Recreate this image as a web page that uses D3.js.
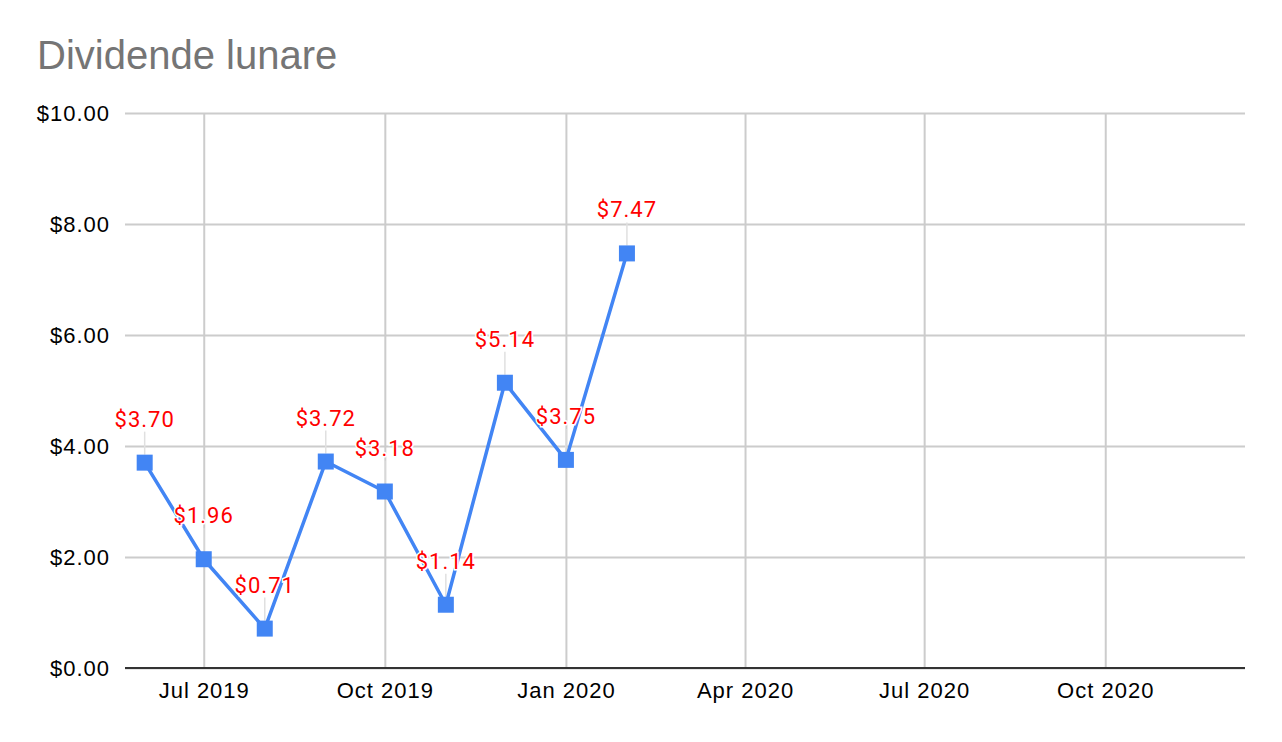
<!DOCTYPE html>
<html lang="en">
<head>
    <meta charset="UTF-8">
    <title>Dividende lunare</title>
    <script src="https://d3js.org/d3.v7.min.js"></script>
    <style>
        body { margin: 0; background: #fff; }
    </style>
</head>
<body>
    <div class="svg-container"></div>

    <script>

        // monthly dividends (first day of each month)
        const months = ["2019-06-01", "2019-07-01", "2019-08-01", "2019-09-01", "2019-10-01",
                        "2019-11-01", "2019-12-01", "2020-01-01", "2020-02-01"]
        const dividends = [3.70, 1.96, 0.71, 3.72, 3.18, 1.14, 5.14, 3.75, 7.47]

        const xTicks = ["2019-07-01", "2019-10-01", "2020-01-01", "2020-04-01", "2020-07-01", "2020-10-01"]
        const yTicks = [0, 2, 4, 6, 8, 10]
        const xDomain = ["2019-05-22", "2020-12-11"]

        const parse = d3.utcParse("%Y-%m-%d")
        const data = months.map((m, i) => ({ date: parse(m), value: dividends[i] }))

        const width = 1282
        const height = 742
        const margin = { top: 113, right: 37, bottom: 74, left: 125 }

        const x = d3.scaleUtc()
            .domain(xDomain.map(parse))
            .range([margin.left, width - margin.right])

        const y = d3.scaleLinear()
            .domain([0, 10])
            .range([height - margin.bottom, margin.top])

        const money = d3.format("$.2f")

        const svg = d3.select(".svg-container")
            .append("svg")
            .attr("width", width)
            .attr("height", height)

        // title
        svg.append("text")
            .attr("x", 37)
            .attr("y", 69)
            .attr("fill", "#757575")
            .style("font-family", "'Liberation Sans', Arial, sans-serif")
            .style("font-size", "40px")
            .text("Dividende lunare")

        // horizontal grid + y labels
        const yAxis = svg.append("g")
            .attr("transform", "translate(" + margin.left + ",0)")
            .call(d3.axisLeft(y)
                .tickValues(yTicks)
                .tickFormat(money)
                .tickSize(-(width - margin.left - margin.right))
                .tickPadding(15))
        yAxis.select(".domain").remove()
        yAxis.selectAll("line").attr("stroke", "#cccccc").attr("stroke-width", 2)
        yAxis.selectAll("text")
            .attr("fill", "#000")
            .style("font-family", "'Liberation Sans', Arial, sans-serif")
            .style("font-size", "22px")
            .style("letter-spacing", "1px")

        // vertical grid + x labels
        const xAxis = svg.append("g")
            .attr("transform", "translate(0," + (height - margin.bottom) + ")")
            .call(d3.axisBottom(x)
                .tickValues(xTicks.map(parse))
                .tickFormat(d3.utcFormat("%b %Y"))
                .tickSize(-(height - margin.top - margin.bottom))
                .tickPadding(14))
        xAxis.select(".domain").remove()
        xAxis.selectAll("line").attr("stroke", "#cccccc").attr("stroke-width", 2)
        xAxis.selectAll("text")
            .attr("fill", "#000")
            .style("font-family", "'Liberation Sans', Arial, sans-serif")
            .style("font-size", "22px")
            .style("letter-spacing", "1px")

        // baseline
        svg.append("line")
            .attr("x1", margin.left)
            .attr("x2", width - margin.right)
            .attr("y1", y(0))
            .attr("y2", y(0))
            .attr("stroke", "#333333")
            .attr("stroke-width", 2)

        // leader lines from labels to points
        svg.selectAll(".leader")
            .data(data)
            .enter()
            .append("line")
            .attr("class", "leader")
            .attr("x1", d => x(d.date))
            .attr("x2", d => x(d.date))
            .attr("y1", d => y(d.value) - 31)
            .attr("y2", d => y(d.value) - 8)
            .attr("stroke", "#e0e0e0")
            .attr("stroke-width", 1.5)

        // line
        svg.append("path")
            .datum(data)
            .attr("fill", "none")
            .attr("stroke", "#4285f4")
            .attr("stroke-width", 3.5)
            .attr("stroke-linejoin", "round")
            .attr("d", d3.line().x(d => x(d.date)).y(d => y(d.value)))

        // square markers
        const s = 16
        svg.selectAll(".pt")
            .data(data)
            .enter()
            .append("rect")
            .attr("class", "pt")
            .attr("x", d => x(d.date) - s / 2)
            .attr("y", d => y(d.value) - s / 2)
            .attr("width", s)
            .attr("height", s)
            .attr("fill", "#4285f4")

        // value labels
        svg.selectAll(".lbl")
            .data(data)
            .enter()
            .append("text")
            .attr("class", "lbl")
            .attr("x", d => x(d.date))
            .attr("y", d => y(d.value) - 36)
            .attr("text-anchor", "middle")
            .attr("fill", "#ff0000")
            .attr("stroke", "#ffffff")
            .attr("stroke-width", 3)
            .attr("paint-order", "stroke")
            .style("font-family", "Roboto, sans-serif")
            .style("font-size", "22px")
            .style("letter-spacing", "1px")
            .text(d => money(d.value))

    </script>
</body>
</html>
